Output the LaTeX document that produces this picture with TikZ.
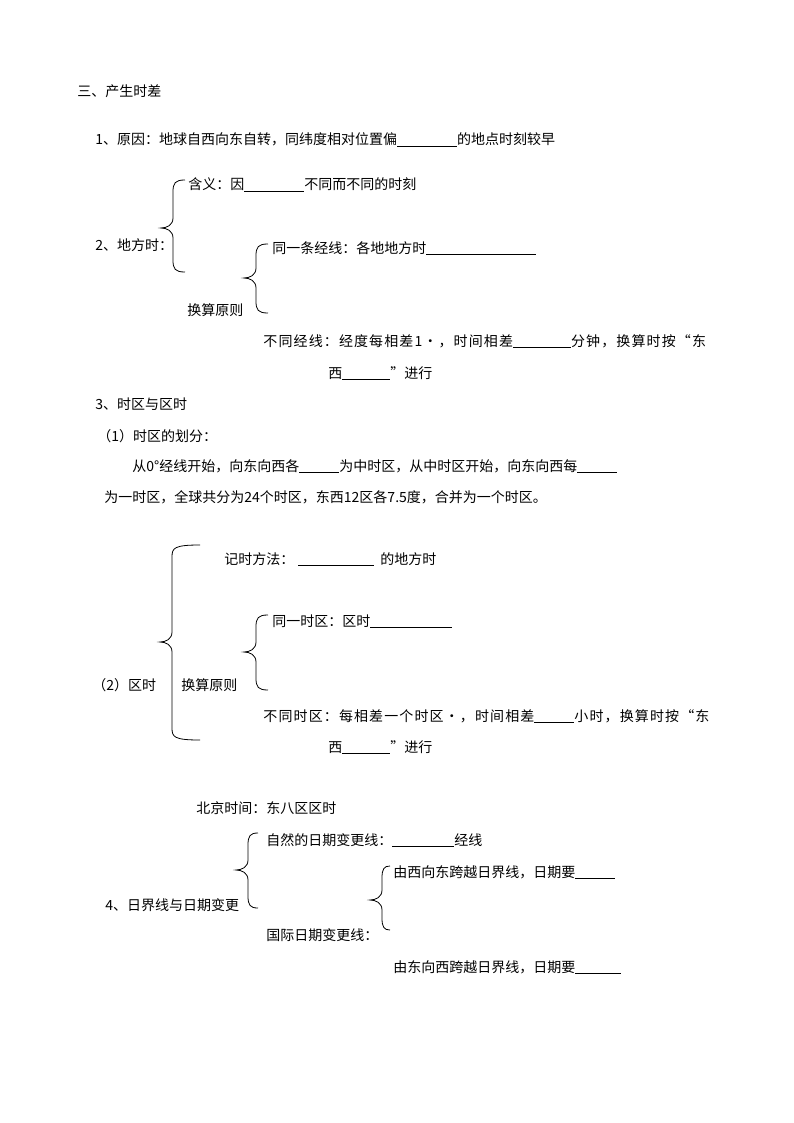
\documentclass[tikz,border=0pt]{standalone}
\usepackage{fontspec}
\setmainfont{Noto Sans CJK SC}
\newcommand\dbrace[5]{% x, ytop, ytip, ybot, hook
\draw (#1+#5,#2) .. controls (#1+2,#2) and (#1,#2+3) .. (#1,#2+12) -- (#1,#3-10) .. controls (#1,#3-3) and (#1-6,#3) .. (#1-12,#3) .. controls (#1-6,#3) and (#1,#3+3) .. (#1,#3+10) -- (#1,#4-12) .. controls (#1,#4-3) and (#1+2,#4) .. (#1+#5,#4);}
\newcommand\blank[1]{\rule[-2pt]{#1pt}{0.6pt}}
\begin{document}
\begin{tikzpicture}[x=1pt,y=-1pt,line width=0.8pt,
  t/.style={anchor=base west,inner sep=0pt,font=\fontsize{14}{16}\selectfont},
  w/.style={t,font=\fontsize{14}{16}\selectfont\addfontfeatures{LetterSpace=8}}]
\useasboundingbox (0,0) rectangle (794,1123);
\node[t] (a1) at (77,97) {三、产生时差};
\node[t] (a2) at (95,145) {1、原因：地球自西向东自转，同纬度相对位置偏\blank{60}的地点时刻较早};
\dbrace{173}{180}{228}{272}{12}
\node[t] (a3) at (188,190) {含义：因\blank{60}不同而不同的时刻};
\node[t] (a4) at (95,251) {2、地方时：};
\dbrace{256}{244}{278}{313}{12}
\node[t] (a5) at (272,253) {同一条经线：各地地方时\blank{110}};
\node[t] (a6) at (187,315) {换算原则};
\node[w] (a7) at (263,346) {不同经线：经度每相差1·，时间相差\blank{58}分钟，换算时按“东};
\node[t] (a8) at (328,378) {西\blank{48}”进行};
\node[t] (a9) at (95,409) {3、时区与区时};
\node[t] (a10) at (97,441) {（1）时区的划分：};
\node[t] (a11) at (132,471) {从0°经线开始，向东向西各\blank{40}为中时区，从中时区开始，向东向西每\blank{40}};
\node[t] (a12) at (104,502) {为一时区，全球共分为24个时区，东西12区各7.5度，合并为一个时区。};
\dbrace{172}{545}{642}{740}{28}
\node[t] (b1) at (224,564) {记时方法：\hspace{4pt}\blank{76}\hspace{6pt}的地方时};
\dbrace{256}{615}{652}{690}{12}
\node[t] (b2) at (272,626) {同一时区：区时\blank{82}};
\node[t] (b3) at (92,690) {（2）区时};
\node[t] (b4) at (181,690) {换算原则};
\node[w] (b5) at (263,721) {不同时区：每相差一个时区·，时间相差\blank{40}小时，换算时按“东};
\node[t] (b6) at (328,752) {西\blank{48}”进行};
\node[t] (c1) at (196,813) {北京时间：东八区区时};
\dbrace{248}{833}{870}{908}{10}
\node[t] (c2) at (266,845) {自然的日期变更线：\blank{62}经线};
\dbrace{382}{866}{900}{930}{8}
\node[t] (c3) at (393,877) {由西向东跨越日界线，日期要\blank{40}};
\node[t] (c4) at (105,910) {4、日界线与日期变更};
\node[t] (c5) at (266,940) {国际日期变更线：};
\node[t] (c6) at (393,972) {由东向西跨越日界线，日期要\blank{46}};
\end{tikzpicture}
\end{document}
